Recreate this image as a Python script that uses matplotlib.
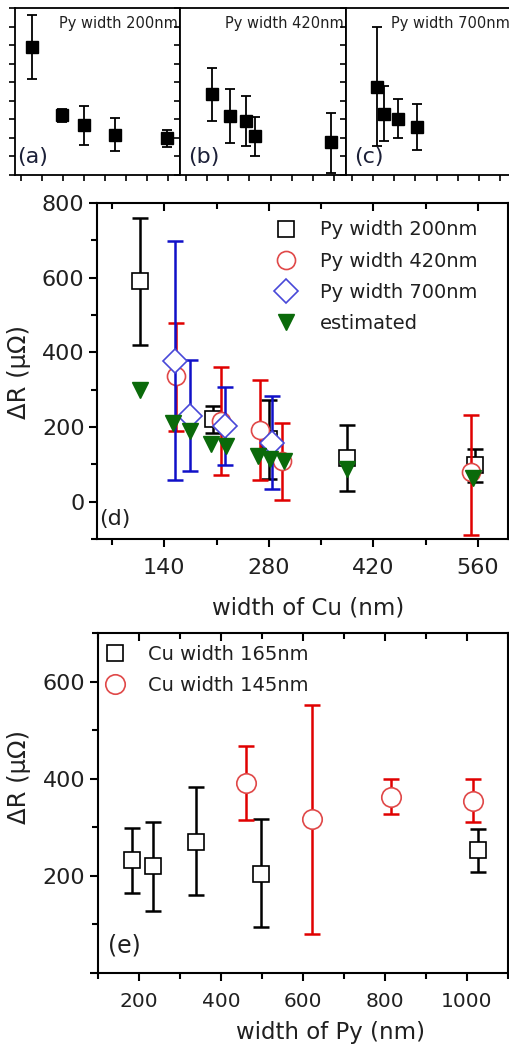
import matplotlib
matplotlib.use('Agg')
import matplotlib.pyplot as plt
from matplotlib.ticker import MultipleLocator, NullFormatter, FuncFormatter
import numpy as np

W, H, DPI = 509, 1048, 100
plt.rcParams['font.family'] = ['DejaVu Sans']

# ---- data: Delta R (micro-ohm) vs width of Cu (nm), three Py widths ----
cu_200 = [107, 205, 280, 384, 556]
dr_200 = [590, 222, 168, 116, 97]
lo_200 = [420, 184, 60, 28, 53]
hi_200 = [760, 255, 272, 206, 141]

cu_420 = [156, 216, 268, 298, 551]
dr_420 = [336, 216, 193, 110, 80]
lo_420 = [190, 72, 58, 4, -88]
hi_420 = [478, 362, 327, 212, 233]

cu_700 = [154, 175, 221, 284]
dr_700 = [376, 229, 202, 158]
lo_700 = [57, 82, 97, 35]
hi_700 = [697, 380, 307, 282]

cu_est = [107, 152, 175, 203, 222, 266, 282, 300, 384, 553]
dr_est = [300, 211, 189, 155, 150, 122, 115, 108, 88, 63]

# ---- data: Delta R vs width of Py (nm), two Cu widths ----
py_165 = [182, 235, 339, 497, 1028]
dr_165 = [232, 221, 270, 204, 253]
lo_165 = [164, 127, 161, 95, 208]
hi_165 = [298, 311, 382, 317, 297]

py_145 = [462, 622, 815, 1015]
dr_145 = [391, 317, 363, 354]
lo_145 = [316, 80, 328, 310]
hi_145 = [467, 552, 399, 399]

top_titles = ['Py width 200nm', 'Py width 420nm', 'Py width 700nm']
top_tags = ['(a)', '(b)', '(c)']

RED, BLUE, GREEN = '#e00000', '#1010c8', '#0a6a0a'
TXT = '#202020'


def px_axes(fig, left, top, right, bottom):
    return fig.add_axes([left / W, 1 - bottom / H, (right - left) / W, (bottom - top) / H])


def yerr(y, lo, hi):
    y, lo, hi = np.asarray(y), np.asarray(lo), np.asarray(hi)
    return [y - lo, hi - y]


def style_main(ax, lab_size):
    for s in ax.spines.values():
        s.set_linewidth(1.5)
    ax.tick_params(which='both', direction='out', width=1.5, colors='k',
                   labelcolor=TXT, labelsize=lab_size)
    ax.tick_params(which='major', length=6)
    ax.tick_params(which='minor', length=4)
    ax.tick_params(axis='x', which='both', pad=8)
    ax.tick_params(axis='y', which='both', pad=3)
    ax.tick_params(which='both', top=True, right=True, labeltop=False, labelright=False)
    # top and right ticks point inward
    for t in ax.xaxis.get_major_ticks() + ax.xaxis.get_minor_ticks():
        t.tick2line.set_marker(3)
    for t in ax.yaxis.get_major_ticks() + ax.yaxis.get_minor_ticks():
        t.tick2line.set_marker(1)


fig = plt.figure(figsize=(W / DPI, H / DPI), dpi=DPI)

# ---- (a)-(c) small panels ----
top_sets = [(cu_200, dr_200, lo_200, hi_200),
            (cu_420, dr_420, lo_420, hi_420),
            (cu_700, dr_700, lo_700, hi_700)]
edges = [(15, 180), (180, 346), (346, 512)]
for i, ((x, y, lo, hi), (l, r)) in enumerate(zip(top_sets, edges)):
    ax = px_axes(fig, l, 8, r, 175)
    ax.errorbar(x, y, yerr=yerr(y, lo, hi), fmt='s', color='k', ms=8,
                elinewidth=1.3, capsize=3.5, capthick=1.3)
    ax.set_xlim(50, 600)
    ax.set_ylim(-100, 800)
    ax.xaxis.set_major_locator(MultipleLocator(70))
    ax.yaxis.set_major_locator(MultipleLocator(100))
    ax.xaxis.set_major_formatter(NullFormatter())
    ax.yaxis.set_major_formatter(NullFormatter())
    ax.tick_params(direction='out', length=4, width=1.2)
    for s in ax.spines.values():
        s.set_linewidth(1.3)
    ax.text(0.985, 0.95, top_titles[i], transform=ax.transAxes, ha='right', va='top',
            fontsize=10.5, color=TXT)
    ax.text(0.01 if i == 0 else 0.05, 0.11, top_tags[i], transform=ax.transAxes,
            ha='left', va='center', fontsize=16, color='#1c2038')

# ---- (d) ----
ax = px_axes(fig, 97, 203, 508, 539)
ebkw = dict(fmt='none', elinewidth=1.8, capsize=6, capthick=1.8)
ax.errorbar(cu_200, dr_200, yerr=yerr(dr_200, lo_200, hi_200), ecolor='k', **ebkw)
ax.plot(cu_200, dr_200, 's', ms=11, mfc='white', mec='k', mew=1.2, label='Py width 200nm')
ax.errorbar(cu_420, dr_420, yerr=yerr(dr_420, lo_420, hi_420), ecolor=RED, **ebkw)
ax.plot(cu_420, dr_420, 'o', ms=13, mfc='white', mec='#e04848', mew=1.2, label='Py width 420nm')
ax.errorbar(cu_700, dr_700, yerr=yerr(dr_700, lo_700, hi_700), ecolor=BLUE, **ebkw)
ax.plot(cu_700, dr_700, 'D', ms=12, mfc='white', mec='#4848d8', mew=1.2, label='Py width 700nm')
ax.plot(cu_est, dr_est, 'v', ms=11, color=GREEN, label='estimated')
ax.set_xlim(50, 600)
ax.set_ylim(-100, 800)
ax.xaxis.set_major_locator(MultipleLocator(140))
ax.xaxis.set_minor_locator(MultipleLocator(70))
ax.yaxis.set_major_locator(MultipleLocator(200))
ax.yaxis.set_minor_locator(MultipleLocator(100))
style_main(ax, 16)
ax.legend(loc='upper left', bbox_to_anchor=(0.39, 1.0), frameon=False, fontsize=14,
          handlelength=1.2, handletextpad=1.1, labelspacing=0.62, borderaxespad=0.5,
          labelcolor=TXT)
ax.text(0.005, 0.06, '(d)', transform=ax.transAxes, ha='left', va='center', fontsize=16, color=TXT)

# ---- (e) ----
ax = px_axes(fig, 98, 633, 508, 973)
ax.errorbar(py_165, dr_165, yerr=yerr(dr_165, lo_165, hi_165), ecolor='k', **ebkw)
ax.plot(py_165, dr_165, 's', ms=12, mfc='white', mec='k', mew=1.2, label='Cu width 165nm')
ax.errorbar(py_145, dr_145, yerr=yerr(dr_145, lo_145, hi_145), ecolor=RED, **ebkw)
ax.plot(py_145, dr_145, 'o', ms=14, mfc='white', mec='#e04848', mew=1.2, label='Cu width 145nm')
ax.set_xlim(100, 1100)
ax.set_ylim(0, 700)
ax.xaxis.set_major_locator(MultipleLocator(200))
ax.xaxis.set_minor_locator(MultipleLocator(100))
ax.yaxis.set_major_locator(MultipleLocator(200))
ax.yaxis.set_minor_locator(MultipleLocator(100))
ax.yaxis.set_major_formatter(FuncFormatter(lambda v, p: '' if v == 0 else f'{v:.0f}'))
style_main(ax, 16)
ax.tick_params(axis='x', labelsize=14.5)
ax.legend(loc='upper left', frameon=False, fontsize=14, handlelength=1.0,
          handletextpad=1.2, labelspacing=0.62, borderaxespad=0.3, borderpad=0.3,
          bbox_to_anchor=(-0.01, 1.0), labelcolor=TXT)
ax.text(0.025, 0.08, '(e)', transform=ax.transAxes, ha='left', va='center', fontsize=17, color=TXT)

# ---- axis labels ----
fig.text(308 / W, 1 - 608 / H, 'width of Cu (nm)', ha='center', va='center', fontsize=16.5, color=TXT)
fig.text(330 / W, 1 - 1032 / H, 'width of Py (nm)', ha='center', va='center', fontsize=16.5, color=TXT)
fig.text(19 / W, 1 - 372 / H, 'ΔR (μΩ)', rotation=90, ha='center', va='center', fontsize=17.5, color=TXT)
fig.text(19 / W, 1 - 777 / H, 'ΔR (μΩ)', rotation=90, ha='center', va='center', fontsize=17.5, color=TXT)

fig.savefig('out.png', dpi=DPI)
